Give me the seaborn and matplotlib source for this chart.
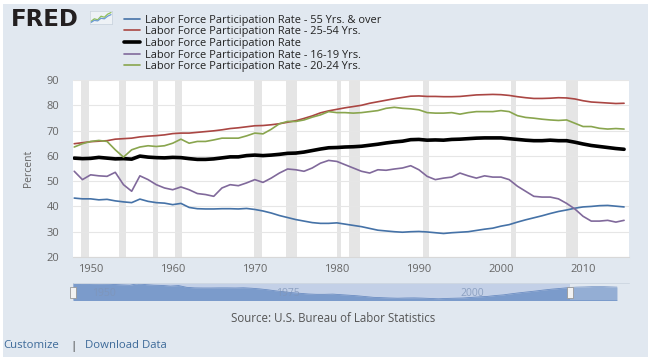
import numpy as np
import pandas as pd
import matplotlib
matplotlib.use("Agg")
import matplotlib.pyplot as plt
from matplotlib.patches import Rectangle
from matplotlib.lines import Line2D
import seaborn as sns

sns.set_theme(style="white")
plt.rcParams['font.family'] = ['Open Sans', 'DejaVu Sans']

# ---------------- data ----------------
years = list(range(1948, 2016))

lfpr_55_over = [43.3, 43.0, 43.0, 42.6, 42.8, 42.2, 41.8, 41.5, 42.9, 42.0,
                41.5, 41.3, 40.7, 41.2, 39.6, 39.1, 39.0, 39.0, 39.1, 39.1,
                39.0, 39.2, 38.8, 38.2, 37.4, 36.4, 35.6, 34.8, 34.2, 33.6,
                33.3, 33.3, 33.5, 33.0, 32.5, 32.0, 31.3, 30.6, 30.3, 30.0,
                29.8, 30.0, 30.1, 29.9, 29.6, 29.3, 29.6, 29.8, 30.0, 30.5,
                31.0, 31.4, 32.2, 32.8, 33.8, 34.7, 35.5, 36.3, 37.2, 38.0,
                38.6, 39.3, 39.8, 40.0, 40.3, 40.4, 40.1, 39.8]

lfpr_25_54 = [64.8, 65.2, 65.6, 65.8, 66.0, 66.6, 66.8, 67.0, 67.5, 67.8,
              68.0, 68.3, 68.8, 69.0, 69.0, 69.3, 69.6, 69.9, 70.3, 70.8,
              71.1, 71.5, 71.9, 72.0, 72.3, 72.7, 73.3, 73.9, 74.8, 75.8,
              77.0, 77.8, 78.4, 79.0, 79.5, 80.0, 80.8, 81.4, 82.0, 82.6,
              83.1, 83.6, 83.7, 83.5, 83.5, 83.4, 83.4, 83.5, 83.8, 84.1,
              84.2, 84.3, 84.2, 83.9, 83.4, 83.0, 82.7, 82.7, 82.8, 83.0,
              82.9, 82.5, 81.8, 81.3, 81.1, 80.9, 80.7, 80.8]

lfpr_total = [59.1, 58.9, 59.0, 59.4, 59.1, 58.8, 58.9, 58.7, 59.9, 59.5,
              59.3, 59.2, 59.4, 59.3, 58.9, 58.6, 58.6, 58.8, 59.2, 59.6,
              59.6, 60.1, 60.3, 60.1, 60.3, 60.6, 61.0, 61.1, 61.5, 62.1,
              62.7, 63.2, 63.3, 63.5, 63.6, 63.8, 64.2, 64.6, 65.1, 65.5,
              65.8, 66.4, 66.5, 66.2, 66.3, 66.2, 66.5, 66.6, 66.8, 67.0,
              67.1, 67.1, 67.1, 66.8, 66.5, 66.2, 66.0, 66.0, 66.2, 66.0,
              66.0, 65.4, 64.7, 64.1, 63.7, 63.3, 62.9, 62.6]

lfpr_16_19 = [53.9, 50.6, 52.5, 52.1, 51.9, 53.5, 48.6, 46.0, 52.1, 50.6,
              48.6, 47.3, 46.6, 47.7, 46.6, 45.1, 44.7, 44.0, 47.3, 48.6,
              48.2, 49.3, 50.6, 49.5, 51.2, 53.2, 54.8, 54.5, 53.9, 55.2,
              57.1, 58.2, 57.8, 56.5, 55.2, 53.9, 53.2, 54.5, 54.3, 54.8,
              55.2, 56.1, 54.5, 51.9, 50.6, 51.2, 51.6, 53.2, 52.1, 51.2,
              52.1, 51.6, 51.6, 50.6, 48.0, 46.0, 44.0, 43.7, 43.7, 43.0,
              41.2, 39.0, 36.1, 34.2, 34.2, 34.5, 33.8, 34.5]

lfpr_20_24 = [63.5, 64.8, 65.7, 66.1, 65.7, 62.4, 59.5, 62.4, 63.5, 64.0,
              63.7, 64.0, 65.0, 66.6, 65.0, 65.7, 65.7, 66.3, 67.0, 67.0,
              67.0, 67.9, 69.0, 68.7, 70.5, 72.7, 73.6, 73.6, 74.2, 75.3,
              76.2, 77.5, 77.1, 77.1, 76.9, 77.1, 77.5, 77.9, 78.8, 79.2,
              78.8, 78.6, 78.2, 77.1, 76.9, 76.9, 77.1, 76.5, 77.1, 77.5,
              77.5, 77.5, 77.9, 77.5, 75.9, 75.2, 74.9, 74.5, 74.2, 74.0,
              74.2, 72.9, 71.6, 71.6, 70.9, 70.6, 70.8, 70.6]

series_labels = ["Labor Force Participation Rate - 55 Yrs. & over",
                 "Labor Force Participation Rate - 25-54 Yrs.",
                 "Labor Force Participation Rate",
                 "Labor Force Participation Rate - 16-19 Yrs.",
                 "Labor Force Participation Rate - 20-24 Yrs."]
series_values = [lfpr_55_over, lfpr_25_54, lfpr_total, lfpr_16_19, lfpr_20_24]

recession_starts = [1948.83, 1953.50, 1957.58, 1960.25, 1969.92, 1973.83,
                    1980.00, 1981.50, 1990.50, 2001.17, 2007.92]
recession_ends = [1949.75, 1954.33, 1958.25, 1961.08, 1970.83, 1975.17,
                  1980.50, 1982.83, 1991.17, 2001.83, 2009.42]

y_ticks = [20, 30, 40, 50, 60, 70, 80, 90]
x_ticks = [1950, 1960, 1970, 1980, 1990, 2000, 2010]
nav_labels = ["1950", "1975", "2000"]

icon_x = [0, 1, 2, 3, 4, 5, 6]
icon_green = [1.0, 2.0, 1.6, 3.0, 2.6, 3.8, 4.4]
icon_blue = [0.6, 1.4, 1.2, 2.2, 2.0, 3.0, 3.6]

# ---------------- styling ----------------
colors = ["#4572a7", "#aa4643", "#000000", "#80699b", "#89a54e"]
widths = [1.2, 1.2, 2.6, 1.2, 1.2]
panel_bg = "#e1e8f0"
W, H = 656, 357

df = pd.DataFrame({"year": np.tile(years, len(series_labels)),
                   "value": np.concatenate(series_values),
                   "series": np.repeat(series_labels, len(years))})

fig = plt.figure(figsize=(W / 100, H / 100), dpi=100)
fig.patch.set_facecolor("white")
fig.patches.append(Rectangle((3 / W, 0), (648 - 3) / W, 1 - 4 / H,
                             transform=fig.transFigure, facecolor=panel_bg,
                             edgecolor="none", zorder=-10))


def fx(px):
    return px / W


def fy(py):
    return 1 - py / H


# main axes
ax = fig.add_axes([fx(73), fy(257), fx(629) - fx(73), fy(80) - fy(257)])
ax.set_facecolor("white")
for s, e in zip(recession_starts, recession_ends):
    ax.axvspan(s, e, color="#e5e5e5", lw=0, zorder=0)
for yt in y_ticks:
    ax.axhline(yt, color="#e6e6e6", lw=0.8, zorder=0.5)

for lab, col, lw in zip(series_labels, colors, widths):
    sns.lineplot(data=df[df["series"] == lab], x="year", y="value",
                 color=col, lw=lw, ax=ax, legend=False, zorder=3)

ax.set_xlim(1947.85, 2015.6)
ax.set_ylim(20, 90)
ax.set_yticks(y_ticks)
ax.set_xticks(x_ticks)
ax.tick_params(axis="both", labelsize=8, colors="#666666", length=0)
ax.tick_params(axis="x", pad=5, length=0)
ax.tick_params(axis="y", pad=10)
ax.set_xlabel("")
ax.set_ylabel("Percent", fontsize=7.5, color="#666666", labelpad=9)
for sp in ax.spines.values():
    sp.set_visible(False)
ax.spines["bottom"].set_visible(True)
ax.spines["bottom"].set_color("#d8d8d8")
ax.spines["bottom"].set_linewidth(0.8)

# legend
handles = [Line2D([0], [0], color=c, lw=(2.6 if c == "#000000" else 1.2))
           for c in colors]
leg = fig.legend(handles, series_labels, loc="upper left",
                 bbox_to_anchor=(fx(116), fy(7)), frameon=False,
                 prop={"size": 7.9},
                 handlelength=1.45, handletextpad=0.45,
                 labelspacing=0.06, borderpad=0.2)
for t in leg.get_texts():
    t.set_color("#222222")

# FRED logo
fig.text(fx(11), fy(26), "FRED", fontsize=16.5, fontweight="bold",
         family="DejaVu Sans", color="#231f20", va="baseline", ha="left")
iax = fig.add_axes([fx(90), fy(24), fx(22), fy(0) - fy(13)])
iax.set_facecolor("#eef2f6")
iax.plot(icon_x, icon_green, color="#8fbf5a", lw=0.9)
iax.plot(icon_x, icon_blue, color="#6c9bd2", lw=0.9)
iax.set_xlim(-0.3, 6.3)
iax.set_ylim(0, 5)
iax.set_xticks([])
iax.set_yticks([])
for sp in iax.spines.values():
    sp.set_color("#c8d2dc")
    sp.set_linewidth(0.5)

# navigator
nav = fig.add_axes([fx(73), fy(300), fx(621) - fx(73), fy(283) - fy(300)])
nav.set_facecolor(panel_bg)
handle_year = 1948 + (570 - 73) / (621 - 73) * (2015.5 - 1948)
nav.axvspan(1948, handle_year, color="#c3d0e7", lw=0, zorder=0)
nav.fill_between(years, lfpr_55_over, 0, color="#7b9bcb", lw=0, zorder=1)
nav.plot(years, lfpr_55_over, color="#6a8cc2", lw=0.6, zorder=2)
nav.axvspan(handle_year, 2015.5, color=panel_bg, alpha=0.25, lw=0, zorder=3)
nav.set_xlim(1948, 2015.5)
nav.set_ylim(28.2, 43.5)
nav.set_xticks([])
nav.set_yticks([])
for sp in nav.spines.values():
    sp.set_visible(False)
for lbl, px in zip(nav_labels, [92, 276, 460]):
    fig.text(fx(px), fy(294), lbl, fontsize=7.5, color="#7f95b8",
             va="center", ha="left", alpha=0.8)
fig.add_artist(Line2D([fx(73), fx(629)], [fy(283), fy(283)],
                      color="#cfd8e2", lw=0.7))
for hx in [73, 570]:
    fig.patches.append(Rectangle((fx(hx - 3), fy(298)), 6 / W, 11 / H,
                                 transform=fig.transFigure,
                                 facecolor="#f2f2f2", edgecolor="#999999",
                                 lw=0.6, zorder=5))
    fig.add_artist(Line2D([fx(hx - 0.8), fx(hx - 0.8)], [fy(295), fy(290)],
                          color="#999999", lw=0.4))
    fig.add_artist(Line2D([fx(hx + 0.8), fx(hx + 0.8)], [fy(295), fy(290)],
                          color="#999999", lw=0.4))

# source and footer
fig.text(fx(333), fy(318), "Source: U.S. Bureau of Labor Statistics",
         fontsize=8.3, color="#555555", ha="center", va="center")
fig.text(fx(3), fy(346), "Customize", fontsize=8.2, color="#3d6a99",
         ha="left", va="center")
fig.text(fx(70), fy(346), "|", fontsize=8.2, color="#333333",
         ha="left", va="center")
fig.text(fx(85), fy(346), "Download Data", fontsize=8.2, color="#3d6a99",
         ha="left", va="center")

fig.savefig("out.png", dpi=100)
